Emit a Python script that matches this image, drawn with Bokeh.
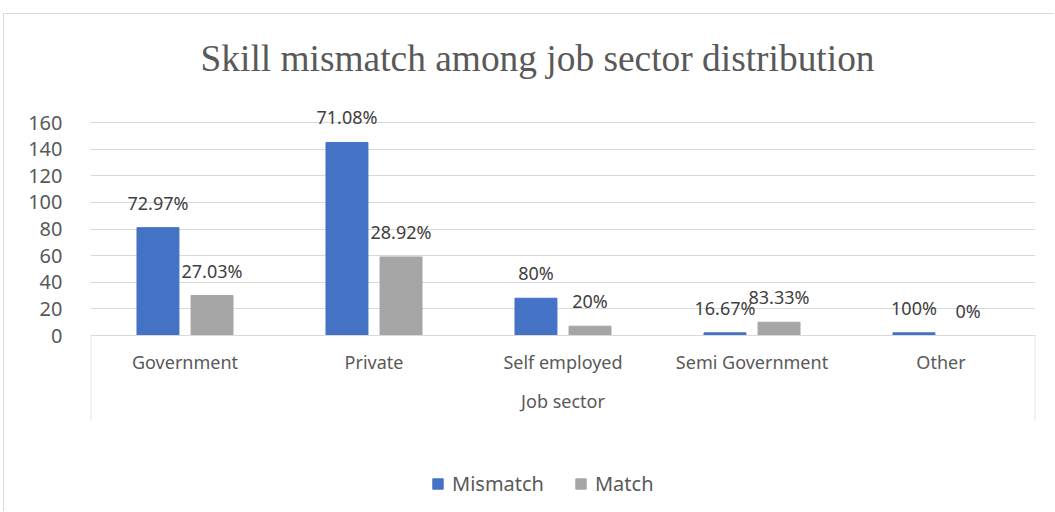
from bokeh.plotting import figure
from bokeh.models import (ColumnDataSource, LabelSet, Legend, LegendItem, LinearAxis,
                          FixedTicker, Range1d, Title, Grid)
from bokeh.core.properties import value
from bokeh.embed import file_html
from bokeh.resources import INLINE

categories = ["Government", "Private", "Self employed", "Semi Government", "Other"]
mismatch = [81, 145, 28, 2, 2]
match = [30, 59, 7, 10, 0]
mismatch_pct = ["72.97%", "71.08%", "80%", "16.67%", "100%"]
match_pct = ["27.03%", "28.92%", "20%", "83.33%", "0%"]
y_ticks = [0, 20, 40, 60, 80, 100, 120, 140, 160]

BLUE = "#4472C4"
GREY = "#A5A5A5"
GRID = "#D9D9D9"
TXT = "#595959"
FONT = "Noto Sans"

n = len(categories)
pos = list(range(n))
x_mis = [i + 0.5 - 0.143 for i in pos]
x_mat = [i + 0.5 + 0.143 for i in pos]

src_mis = ColumnDataSource(dict(x=x_mis, y=mismatch, t=mismatch_pct))
src_mat = ColumnDataSource(dict(x=x_mat, y=match, t=match_pct))

ppu = (335 - 122) / 160.0
y_end = 160 + 22 / ppu
y_start = -(510 - 335) / ppu
y_box = -85 / ppu

p = figure(width=1051, height=498, output_backend="svg", toolbar_location=None,
           x_range=Range1d(0, n), y_range=Range1d(y_start, y_end),
           x_axis_location=None, y_axis_location=None,
           min_border_left=86, min_border_right=20, min_border_top=86, min_border_bottom=2)
p.styles = {"margin-left": "3px", "margin-top": "13px",
            "border-top": "1px solid #D9D9D9", "border-left": "1px solid #D9D9D9"}
p.outline_line_color = None
p.background_fill_color = "white"
p.border_fill_color = "white"

t = Title(text="Skill mismatch among job sector distribution", align="left", offset=110,
          text_font="Liberation Serif", text_font_size="37.4px", text_font_style="normal",
          text_color=TXT, standoff=43)
p.add_layout(t, "above")

r1 = p.vbar(x="x", top="y", width=0.222, source=src_mis, color=BLUE)
r2 = p.vbar(x="x", top="y", width=0.222, source=src_mat, color=GREY)

# y axis
yax = LinearAxis(ticker=FixedTicker(ticks=y_ticks))
yax.axis_line_color = None
yax.major_tick_line_color = None
yax.minor_tick_line_color = None
yax.major_label_text_font = FONT
yax.major_label_text_font_size = "20px"
yax.major_label_text_color = TXT
yax.major_label_standoff = 22
p.add_layout(yax, "left")

p.ygrid.grid_line_color = None
p.xgrid.grid_line_color = None
p.add_layout(Grid(dimension=1, ticker=FixedTicker(ticks=y_ticks), grid_line_color=GRID))

# x axis at y=0
xax = LinearAxis(ticker=FixedTicker(ticks=[i + 0.5 for i in pos]),
                 major_label_overrides={i + 0.5: c for i, c in zip(pos, categories)},
                 fixed_location=0, axis_label="Job sector")
xax.axis_line_color = GRID
xax.major_tick_line_color = None
xax.minor_tick_line_color = None
xax.major_label_text_font = FONT
xax.major_label_text_font_size = "18px"
xax.major_label_text_color = TXT
xax.major_label_standoff = 8
xax.axis_label_text_font = FONT
xax.axis_label_text_font_size = "18px"
xax.axis_label_text_font_style = "normal"
xax.axis_label_text_color = TXT
xax.axis_label_standoff = 12
p.add_layout(xax, "below")

# category box edges
p.segment(x0=[0.002, n - 0.002], x1=[0.002, n - 0.002], y0=[0, 0], y1=[y_box, y_box],
          line_color=GRID, line_width=1)

for s in (src_mis, src_mat):
    p.add_layout(LabelSet(x="x", y="y", text="t", source=s, y_offset=25,
                          text_align="center", text_baseline="middle",
                          text_font=value(FONT), text_font_size=value("18px"),
                          text_color="#404040"))

leg = Legend(items=[LegendItem(label="Mismatch", renderers=[r1]),
                    LegendItem(label="Match", renderers=[r2])],
             orientation="horizontal", location=(341, 13), padding=0, margin=0,
             spacing=30, label_standoff=8, glyph_width=13, glyph_height=13,
             label_text_font=FONT, label_text_font_size="20px", label_text_color=TXT,
             border_line_color=None, background_fill_alpha=0)
p.add_layout(leg, "center")

open("out.html", "w").write(file_html(p, INLINE))
